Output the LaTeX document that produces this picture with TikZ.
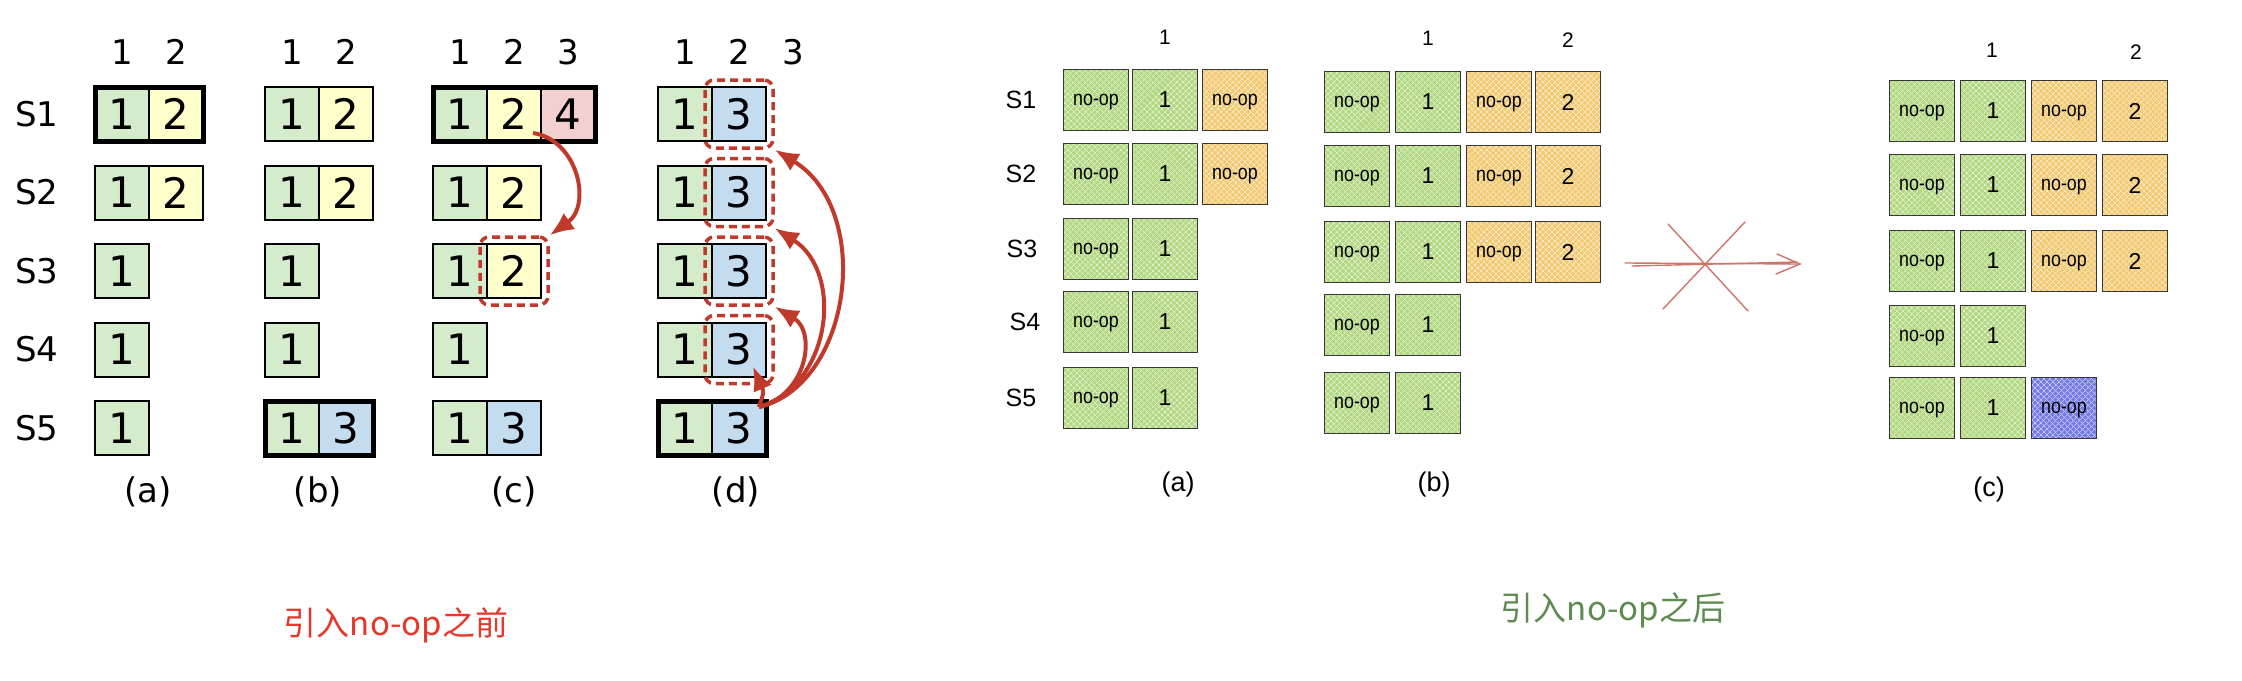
\documentclass[tikz,border=0pt]{standalone}
\usepackage{fontspec}
\setmainfont{DejaVu Sans}
\newfontfamily\rsf{Liberation Sans}
\newfontfamily\rsfn{Liberation Sans}[FakeStretch=0.85]
\newfontfamily\cjk{Noto Sans CJK SC}
\usetikzlibrary{arrows.meta,fit,patterns.meta}
\definecolor{lg}{RGB}{212,236,204}
\definecolor{ly}{RGB}{255,255,204}
\definecolor{lp}{RGB}{242,208,208}
\definecolor{lb}{RGB}{196,220,240}
\definecolor{rd}{RGB}{192,57,43}
\definecolor{sg}{RGB}{178,216,130}
\definecolor{so}{RGB}{242,202,115}
\definecolor{sb}{RGB}{118,124,230}
\definecolor{ink}{RGB}{55,55,55}
\definecolor{cnred}{RGB}{232,55,42}
\definecolor{cngreen}{RGB}{94,140,80}
\definecolor{xred}{RGB}{210,115,105}
\tikzset{
  lcell/.style={draw=black, line width=2pt, minimum width=54pt, minimum height=54pt, inner sep=0pt, font=\fontsize{42}{42}\selectfont},
  thickbox/.style={draw=black, line width=5pt, inner sep=-1pt},
  dbox/.style={draw=rd, line width=3.5pt, dash pattern=on 8pt off 5pt, rounded corners=9pt, inner sep=6pt},
  rarrow/.style={draw=rd, line width=4pt, -{Latex[length=24pt,width=20pt]}},
  lhead/.style={font=\fontsize{34}{34}\selectfont},
  rb/.style={draw=ink, line width=1.4pt, minimum width=65pt, minimum height=61pt, inner sep=0pt, font=\rsf\fontsize{23}{23}\selectfont},
  nop/.style={font=\rsfn\fontsize{21}{21}\selectfont, text depth=0pt},
  hatch/.style={preaction={fill=#1}, preaction={pattern={Lines[angle=45,distance=4pt,line width=0.8pt]}, pattern color=#1!40!white}, preaction={pattern={Lines[angle=-45,distance=4pt,line width=0.8pt]}, pattern color=#1!40!white}},
  gb/.style={rb, hatch=sg},
  ob/.style={rb, hatch=so},
  bb/.style={rb, hatch=sb},
  rlab/.style={font=\rsf\fontsize{25}{25}\selectfont},
  rhead/.style={font=\rsf\fontsize{21}{21}\selectfont},
  rcap/.style={font=\rsf\fontsize{27}{27}\selectfont},
  xline/.style={draw=xred, line width=1.4pt, line cap=round}
}
\begin{document}
\begin{tikzpicture}[x=1pt,y=-1pt]
\useasboundingbox[fill=white] (0,0) rectangle (2242,680);
% ---------------- left part ----------------
\foreach \r/\y in {1/114,2/192.5,3/271,4/349.5,5/428}
  \node[lhead] (ls\r) at (37,\y) {S\r};
\node[lhead] (ha1) at (122,52) {1};
\node[lhead] (ha2) at (176,52) {2};
\node[lhead] (hb1) at (292,52) {1};
\node[lhead] (hb2) at (346,52) {2};
\node[lhead] (hc1) at (460,52) {1};
\node[lhead] (hc2) at (514,52) {2};
\node[lhead] (hc3) at (568,52) {3};
\node[lhead] (hd1) at (685,52) {1};
\node[lhead] (hd2) at (739,52) {2};
\node[lhead] (hd3) at (793,52) {3};
% panel (a)
\foreach \r/\y in {1/114,2/192.5}{
  \node[lcell,fill=lg] (a\r1) at (122,\y) {1};
  \node[lcell,fill=ly] (a\r2) at (176,\y) {2};}
\foreach \r/\y in {3/271,4/349.5,5/428}
  \node[lcell,fill=lg] (a\r1) at (122,\y) {1};
% panel (b)
\foreach \r/\y in {1/114,2/192.5}{
  \node[lcell,fill=lg] (b\r1) at (292,\y) {1};
  \node[lcell,fill=ly] (b\r2) at (346,\y) {2};}
\foreach \r/\y in {3/271,4/349.5}
  \node[lcell,fill=lg] (b\r1) at (292,\y) {1};
\node[lcell,fill=lg] (b51) at (292,428) {1};
\node[lcell,fill=lb] (b52) at (346,428) {3};
% panel (c)
\foreach \r/\y in {1/114,2/192.5,3/271}{
  \node[lcell,fill=lg] (c\r1) at (460,\y) {1};
  \node[lcell,fill=ly] (c\r2) at (514,\y) {2};}
\node[lcell,fill=lp] (c13) at (568,114) {4};
\node[lcell,fill=lg] (c41) at (460,349.5) {1};
\node[lcell,fill=lg] (c51) at (460,428) {1};
\node[lcell,fill=lb] (c52) at (514,428) {3};
% panel (d)
\foreach \r/\y in {1/114,2/192.5,3/271,4/349.5,5/428}{
  \node[lcell,fill=lg] (d\r1) at (685,\y) {1};
  \node[lcell,fill=lb] (d\r2) at (739,\y) {3};}
% thick (leader) boxes
\node[thickbox, fit=(a11)(a12)] (at) {};
\node[thickbox, fit=(b51)(b52)] (bt) {};
\node[thickbox, fit=(c11)(c13)] (ct) {};
\node[thickbox, fit=(d51)(d52)] (dt) {};
% dashed highlights
\node[dbox, fit=(c32)] (cr) {};
\foreach \r in {1,2,3,4}
  \node[dbox, fit=(d\r2)] (d\r r) {};
% arrows
\draw[rarrow] ([shift={(-9pt,9pt)}]c12.south east) .. controls (578,140) and (592,205) .. (cr.north east);
\draw[rarrow] ([shift={(-8pt,-7pt)}]d52.north east) .. controls (852,385) and (874,210) .. (d1r.south east);
\draw[rarrow] ([shift={(-8pt,-7pt)}]d52.north east) .. controls (832,385) and (844,272) .. (d2r.south east);
\draw[rarrow] ([shift={(-8pt,-7pt)}]d52.north east) .. controls (807,395) and (817,332) .. (d3r.south east);
\draw[rarrow] ([shift={(-8pt,-7pt)}]d52.north east) .. controls (764,392) .. ([shift={(-14pt,11pt)}]d42.south east);
% captions
\node[lhead] (capa) at (148,492) {(a)};
\node[lhead] (capb) at (318,492) {(b)};
\node[lhead] (capc) at (514,492) {(c)};
\node[lhead] (capd) at (736,492) {(d)};
\node[font=\cjk\fontsize{33}{33}\selectfont, text=cnred] (tl) at (396,625) {引入no-op之前};
% ---------------- right part ----------------
\foreach \r/\y/\xx in {1/100/1021,2/174/1021,3/249/1022,4/322/1025,5/398/1021}
  \node[rlab] (rs\r) at (\xx,\y) {S\r};
\node[rhead] (rha1) at (1165,37) {1};
\node[rhead] (rhb1) at (1428,38) {1};
\node[rhead] (rhb2) at (1568,40) {2};
\node[rhead] (rhc1) at (1992,50) {1};
\node[rhead] (rhc2) at (2136,52) {2};
% panel (a)
\foreach \r/\y in {1/100,2/174}{
  \node[gb,nop] (p\r1) at (1096,\y) {no-op};
  \node[gb] (p\r2) at (1165,\y) {1};
  \node[ob,nop] (p\r3) at (1235,\y) {no-op};}
\foreach \r/\y in {3/249,4/322,5/398}{
  \node[gb,nop] (p\r1) at (1096,\y) {no-op};
  \node[gb] (p\r2) at (1165,\y) {1};}
% panel (b)
\foreach \r/\y in {1/102,2/176,3/252}{
  \node[gb,nop] (q\r1) at (1357,\y) {no-op};
  \node[gb] (q\r2) at (1428,\y) {1};
  \node[ob,nop] (q\r3) at (1499,\y) {no-op};
  \node[ob] (q\r4) at (1568,\y) {2};}
\foreach \r/\y in {4/325,5/403}{
  \node[gb,nop] (q\r1) at (1357,\y) {no-op};
  \node[gb] (q\r2) at (1428,\y) {1};}
% panel (c)
\foreach \r/\y in {1/111,2/185,3/261}{
  \node[gb,nop] (w\r1) at (1922,\y) {no-op};
  \node[gb] (w\r2) at (1993,\y) {1};
  \node[ob,nop] (w\r3) at (2064,\y) {no-op};
  \node[ob] (w\r4) at (2135,\y) {2};}
\node[gb,nop] (w41) at (1922,336) {no-op};
\node[gb] (w42) at (1993,336) {1};
\node[gb,nop] (w51) at (1922,408) {no-op};
\node[gb] (w52) at (1993,408) {1};
\node[bb,nop] (w53) at (2064,408) {no-op};
% crossed arrow
\coordinate (xa1) at (1625,263);
\coordinate (xa2) at (1800,264);
\coordinate (xb1) at (1632,266);
\coordinate (xb2) at (1797,262);
\coordinate (xh1) at (1777,254);
\coordinate (xh2) at (1776,274);
\draw[xline] (xa1) -- (xa2);
\draw[xline] (xb1) -- (xb2);
\draw[xline] (xh1) -- (xa2) -- (xh2);
\coordinate (xc1) at (1668,224);
\coordinate (xc2) at (1748,311);
\coordinate (xd1) at (1745,222);
\coordinate (xd2) at (1663,309);
\draw[xline] (xc1) -- (xc2);
\draw[xline] (xd1) -- (xd2);
% captions
\node[rcap] (rca) at (1178,485) {(a)};
\node[rcap] (rcb) at (1434,485) {(b)};
\node[rcap] (rcc) at (1989,490) {(c)};
\node[font=\cjk\fontsize{33}{33}\selectfont, text=cngreen] (tr) at (1613,610) {引入no-op之后};
\end{tikzpicture}
\end{document}
